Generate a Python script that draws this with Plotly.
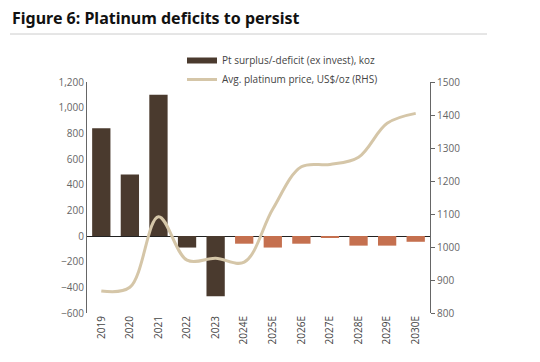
import plotly.graph_objects as go

years = ["2019", "2020", "2021", "2022", "2023", "2024E", "2025E", "2026E",
         "2027E", "2028E", "2029E", "2030E"]
surplus = [840, 480, 1100, -90, -470, -60, -90, -60, -10, -75, -75, -45]
price = [867, 878, 1092, 960, 966, 954, 1115, 1243, 1250, 1272, 1375, 1405]

dark = "#4a3a2e"
fcst = "#c5704f"
line_c = "#d5c6a8"
bar_colors = [dark if not y.endswith("E") else fcst for y in years]

fig = go.Figure()
fig.add_trace(go.Bar(x=years, y=surplus, marker_color=bar_colors, marker_line_width=0,
                     showlegend=False, yaxis="y"))
fig.add_trace(go.Scatter(x=[None], y=[None], mode="lines", line=dict(color=dark, width=6),
                         name="Pt surplus/-deficit (ex invest), koz"))
fig.add_trace(go.Scatter(x=years, y=price, mode="lines", yaxis="y2",
                         line=dict(color=line_c, width=3, shape="spline", smoothing=1.0),
                         name="Avg. platinum price, US$/oz (RHS)"))

fnt = "Open Sans"
W, L, T = 343, 87, 82
H = 231
fig.update_layout(
    width=540, height=362,
    margin=dict(l=L, r=540 - L - W, t=T, b=362 - T - H, autoexpand=False),
    paper_bgcolor="white", plot_bgcolor="white",
    font=dict(family=fnt, size=10, color="#555555"),
    showlegend=True,
    legend=dict(x=(182 - L) / W, y=(T + H - 46) / H, xanchor="left", yanchor="top",
                bgcolor="rgba(0,0,0,0)", font=dict(size=10, color="#444444"),
                tracegroupgap=0, itemwidth=30),
    bargap=0.36,
    xaxis=dict(showline=False, ticks="", tickangle=-90, showgrid=False, automargin=False,
               tickfont=dict(size=10, color="#444444")),
    yaxis=dict(range=[-600, 1200], dtick=200, tickformat=",", showgrid=False, automargin=False,
               showline=True, linecolor="#666666", linewidth=1, ticks="",
               zeroline=True, zerolinecolor="#222222", zerolinewidth=1,
               tickfont=dict(size=10, color="#666666")),
    yaxis2=dict(range=[800, 1500], dtick=100, overlaying="y", side="right", automargin=False,
                showgrid=False, showline=True, linecolor="#666666", linewidth=1,
                ticks="outside", ticklen=4, tickcolor="#666666", zeroline=False,
                tickfont=dict(size=10, color="#666666")),
    shapes=[dict(type="line", xref="paper", yref="paper", x0=(10 - L) / W, x1=(487 - L) / W,
                 y0=(T + H - 34) / H, y1=(T + H - 34) / H,
                 line=dict(color="#cccccc", width=1))],
    annotations=[dict(text="<b>Figure 6: Platinum deficits to persist</b>", xref="paper",
                      yref="paper", x=(10 - L) / W, y=(T + H - 18) / H, xanchor="left",
                      yanchor="middle", showarrow=False,
                      font=dict(family="Noto Sans", size=16, color="#111111"))],
)
fig.write_html("out.html", config={"displayModeBar": False},
               post_script="document.body.style.margin='0';")
